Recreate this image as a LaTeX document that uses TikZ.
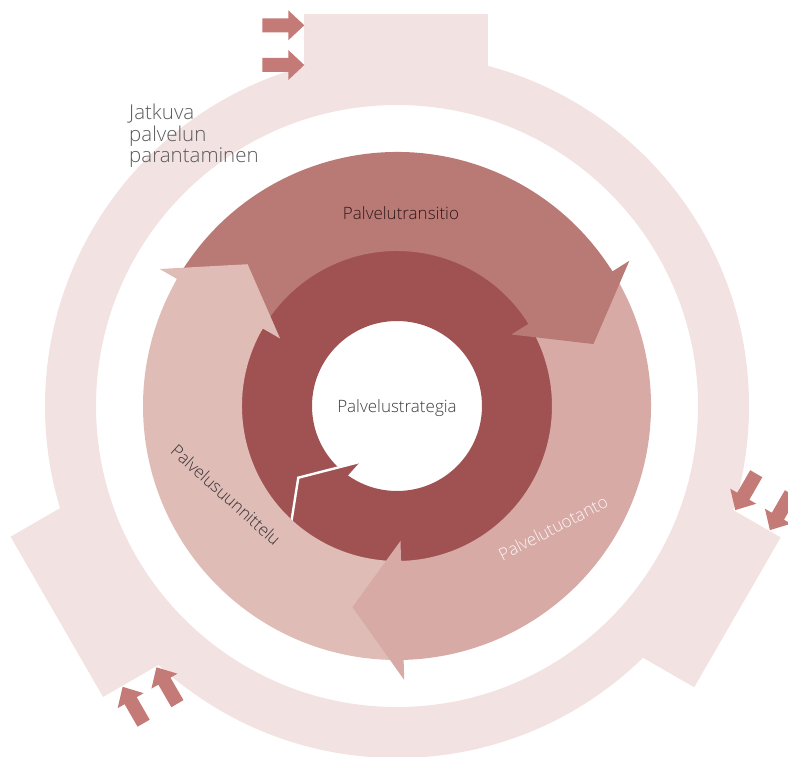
\documentclass[tikz,border=0pt]{standalone}
\usepackage{fontspec}
\setmainfont{Open Sans Light}

\definecolor{ringpale}{HTML}{F2E2E1}
\definecolor{tickarrow}{HTML}{C47A76}
\definecolor{core}{HTML}{A05252}
\definecolor{transition}{HTML}{B97A76}
\definecolor{operation}{HTML}{D8AAA6}
\definecolor{design}{HTML}{E0BCB7}

% small block arrow, tip at (#1,#2), pointing along +x of the current frame
\newcommand\tabarrow[2]{%
  \fill[tickarrow] (#1,#2) -- ++(-16,15) -- ++(0,-8) -- ++(-26,0)
    -- ++(0,-14) -- ++(26,0) -- ++(0,-8) -- cycle;}
% band of the middle ring between two angles
\newcommand\ringband[3]{%
  \fill[#1] (#2:254) arc[start angle=#2, end angle=#3, radius=254]
    -- (#3:155) arc[start angle=#3, end angle=#2, radius=155] -- cycle;}
% arrow head of the middle ring: back edge angle, tip angle
\newcommand\ringhead[3]{%
  \fill[#1] ({#2+1}:155) -- (#2:155) -- (#2:135) -- (#3:206)
    -- (#2:274) -- (#2:254) -- ({#2+1}:254) -- cycle;}

\begin{document}
\begin{tikzpicture}[x=1pt,y=1pt,
  lbl/.style={inner sep=0pt, font=\fontsize{17}{20}\selectfont}]
\useasboundingbox (-397,-350) rectangle (391,406);

% outer improvement ring with its three input tabs
\fill[ringpale, even odd rule] (0,0) circle[radius=352] (0,0) circle[radius=301];
\fill[ringpale] (-92.7,330) rectangle (91.3,392);
\tabarrow{-92.7}{380.7}
\tabarrow{-92.7}{341}
\begin{scope}[rotate=120]
  \fill[ringpale] (-105,330) rectangle (80,400);
  \tabarrow{-106}{378}
  \tabarrow{-106}{339}
\end{scope}
\begin{scope}[rotate=240]
  \fill[ringpale] (-78,330) rectangle (95,398);
  \tabarrow{-79}{385}
  \tabarrow{-79}{345}
\end{scope}

% strategy core: circular arrow
\fill[core, even odd rule] (0,0) circle[radius=156] (0,0) circle[radius=85];
\fill[core] (236.5:67) -- (216:122) -- (-109,-137) -- cycle;
\draw[white, line width=2.4pt, line join=miter] (236.5:67) -- (216:122) -- (-109,-137);

% middle ring: three lifecycle arrows
\ringband{transition}{150}{32}
\ringband{operation}{32}{-88.5}
\ringband{design}{271.5}{150}
\ringhead{transition}{32}{17.5}
\ringhead{operation}{-88.5}{-102.5}
\ringhead{design}{150}{136.5}

% labels
\node[lbl, anchor=base, text=black!60!core!70!black] (transitionlbl) at (4,186) {Palvelutransitio};
\node[lbl, anchor=base, text=black!77] (strategylbl) at (0,-6) {Palvelustrategia};
\node[lbl, rotate=-42, text=black!80] (designlbl) at (-171,-89) {Palvelusuunnittelu};
\node[lbl, rotate=27.4, text=white!95!core] (operationlbl) at (156,-122) {Palvelutuotanto};
\node[anchor=north west, inner sep=0pt, align=left, text=black!65,
  font=\fontsize{20.5}{21.3}\selectfont] (improvementlbl) at (-268,302)
  {Jatkuva\\palvelun\\parantaminen};
\end{tikzpicture}
\end{document}
